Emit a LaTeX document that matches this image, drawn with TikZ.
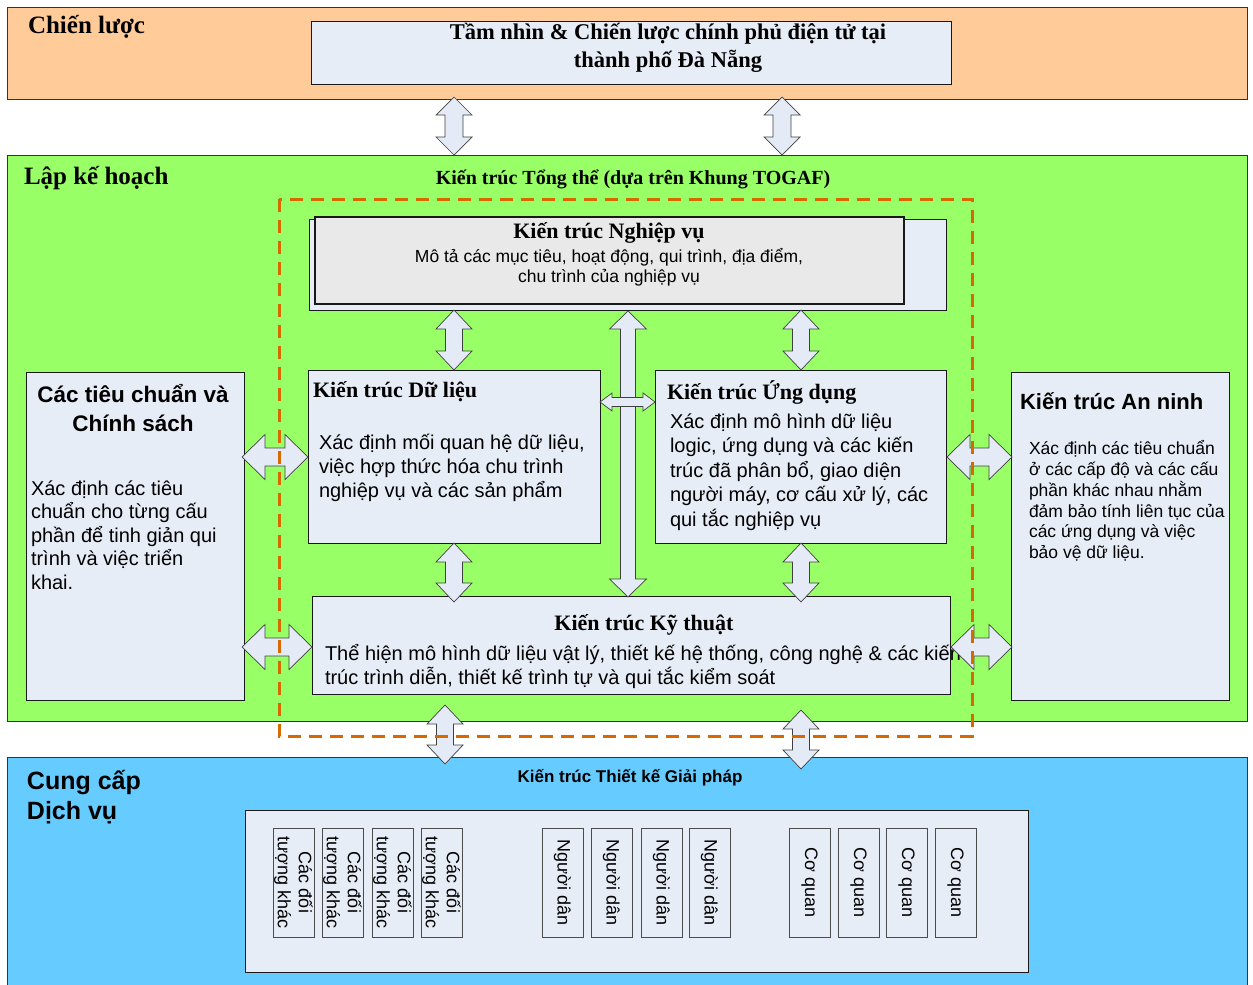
\documentclass[tikz,border=0pt]{standalone}
\usepackage{fontspec}
\setmainfont{Liberation Serif}
\setsansfont{Liberation Sans}
\definecolor{bandorange}{RGB}{255,204,153}
\definecolor{bandgreen}{RGB}{153,255,102}
\definecolor{bandblue}{RGB}{102,204,255}
\definecolor{boxfill}{RGB}{231,237,247}
\definecolor{arrfill}{RGB}{228,235,246}
\definecolor{grayfill}{RGB}{233,233,233}
\definecolor{dashorange}{RGB}{214,106,0}
\newcommand{\myfs}[2]{\fontsize{#1}{#2}\selectfont}
% vertical double block arrow: x, ytop, ybottom, half head, half shaft, head length
\newcommand{\myvarrow}[6]{%
  \draw[blockarrow] (#1,#2) -- (#1+#4,#2+#6) -- (#1+#5,#2+#6) -- (#1+#5,#3-#6) -- (#1+#4,#3-#6) -- (#1,#3)
    -- (#1-#4,#3-#6) -- (#1-#5,#3-#6) -- (#1-#5,#2+#6) -- (#1-#4,#2+#6) -- cycle;}
% horizontal double block arrow: y, xleft, xright, half head, half shaft, head length
\newcommand{\myharrow}[6]{%
  \draw[blockarrow] (#2,#1) -- (#2+#6,#1-#4) -- (#2+#6,#1-#5) -- (#3-#6,#1-#5) -- (#3-#6,#1-#4) -- (#3,#1)
    -- (#3-#6,#1+#4) -- (#3-#6,#1+#5) -- (#2+#6,#1+#5) -- (#2+#6,#1+#4) -- cycle;}
\tikzset{
  band/.style={draw=black!80, line width=0.9pt, inner sep=0, outer sep=0, anchor=north west},
  panel/.style={draw=black!90, fill=boxfill, line width=1pt, inner sep=0, outer sep=0, anchor=north west},
  tinybox/.style={draw=black!70, fill=boxfill, line width=0.8pt, inner sep=0, outer sep=0, anchor=north west,
    minimum width=41pt, minimum height=109pt},
  blockarrow/.style={draw=black!75, fill=arrfill, line width=0.7pt, line join=miter},
  txt/.style={inner sep=0, outer sep=0},
  serifhead/.style={txt, font=\rmfamily\bfseries\myfs{22}{26}},
  bodytxt/.style={txt, align=left, font=\sffamily\myfs{20}{24.3}},
  tinytxt/.style={txt, rotate=-90, align=center, font=\sffamily\myfs{18}{21}},
  frame/.style={draw=dashorange, line width=3pt, dash pattern=on 13pt off 8pt}
}
\begin{document}
\begin{tikzpicture}[x=1pt,y=-1pt]
\useasboundingbox (0,0) rectangle (1253,985);
\fill[white] (0,0) rectangle (1253,985);
% bands
\node[band, fill=bandorange, minimum width=1240pt, minimum height=92pt] (strat) at (7,7) {};
\node[band, fill=bandgreen, minimum width=1240pt, minimum height=566pt] (plan) at (7,155) {};
\node[band, fill=bandblue, minimum width=1240pt, minimum height=240pt] (deliver) at (7,757) {};
% band titles
\node[txt, anchor=west, font=\rmfamily\bfseries\myfs{25}{30}] (tstrat) at (28,27) {Chiến lược};
\node[txt, anchor=west, font=\rmfamily\bfseries\myfs{25}{30}] (tplan) at (24,178) {Lập kế hoạch};
\node[txt, anchor=west, align=left, font=\sffamily\bfseries\myfs{25}{29.5}] (tdeliver) at (27,797) {Cung cấp\\Dịch vụ};
% vision box
\node[panel, minimum width=640pt, minimum height=63pt] (vision) at (311,21) {};
\node[txt, align=center, font=\rmfamily\bfseries\myfs{22.5}{28}] (tvision) at (668,48) {Tầm nhìn \& Chiến lược chính phủ điện tử tại\\thành phố Đà Nẵng};
% overall architecture label
\node[txt, font=\rmfamily\bfseries\myfs{20}{24}] (ttogaf) at (633,179) {Kiến trúc Tổng thể (dựa trên Khung TOGAF)};
% business architecture
\node[panel, minimum width=637pt, minimum height=91pt] (bizback) at (309,219) {};
\node[panel, fill=grayfill, line width=1.8pt, minimum width=589pt, minimum height=87pt] (biz) at (315,217) {};
\node[serifhead] (tbiz) at (609,233) {Kiến trúc Nghiệp vụ};
\node[txt, align=center, font=\sffamily\myfs{17.5}{20}] (dbiz) at (609,267) {Mô tả các mục tiêu, hoạt động, qui trình, địa điểm,\\chu trình của nghiệp vụ};
% data architecture
\node[panel, minimum width=292pt, minimum height=173pt] (data) at (308,370) {};
\node[serifhead, anchor=west] (tdata) at (313,392) {Kiến trúc Dữ liệu};
\node[bodytxt, anchor=west] (ddata) at (319,468) {Xác định mối quan hệ dữ liệu,\\việc hợp thức hóa chu trình\\nghiệp vụ và các sản phẩm};
% application architecture
\node[panel, minimum width=291pt, minimum height=173pt] (app) at (655,370) {};
\node[serifhead, anchor=west] (tapp) at (667,392) {Kiến trúc Ứng dụng};
\node[bodytxt, anchor=west, font=\sffamily\myfs{20}{24.5}] (dapp) at (670,472) {Xác định mô hình dữ liệu\\logic, ứng dụng và các kiến\\trúc đã phân bổ, giao diện\\người máy, cơ cấu xử lý, các\\qui tắc nghiệp vụ};
% standards
\node[panel, minimum width=218pt, minimum height=328pt] (std) at (26,372) {};
\node[txt, align=center, font=\sffamily\bfseries\myfs{22.5}{28.5}] (tstd) at (133,408) {Các tiêu chuẩn và\\Chính sách};
\node[bodytxt, anchor=west, font=\sffamily\myfs{20}{23.5}] (dstd) at (31,535) {Xác định các tiêu\\chuẩn cho từng cấu\\phần để tinh giản qui\\trình và việc triển\\khai.};
% security
\node[panel, minimum width=218pt, minimum height=328pt] (sec) at (1011,372) {};
\node[txt, anchor=west, font=\sffamily\bfseries\myfs{22}{26}] (tsec) at (1020,401) {Kiến trúc An ninh};
\node[bodytxt, anchor=west, font=\sffamily\myfs{17.5}{20.8}] (dsec) at (1029,501) {Xác định các tiêu chuẩn\\ở các cấp độ và các cấu\\phần khác nhau nhằm\\đảm bảo tính liên tục của\\các ứng dụng và việc\\bảo vệ dữ liệu.};
% technology
\node[panel, minimum width=638pt, minimum height=98pt] (tech) at (312,596) {};
\node[serifhead] (ttech) at (644,625) {Kiến trúc Kỹ thuật};
\node[bodytxt, anchor=west, font=\sffamily\myfs{20}{24}] (dtech) at (325,666) {Thể hiện mô hình dữ liệu vật lý, thiết kế hệ thống, công nghệ \& các kiến\\trúc trình diễn, thiết kế trình tự và qui tắc kiểm soát};
% solution design
\node[txt, font=\sffamily\bfseries\myfs{17}{20}] (tsol) at (630,778) {Kiến trúc Thiết kế Giải pháp};
\node[panel, minimum width=783pt, minimum height=162pt] (sol) at (245,810) {};
\node[tinybox] (o1) at (273,828) {};
\node[tinybox] (o2) at (322,828) {};
\node[tinybox] (o3) at (372,828) {};
\node[tinybox] (o4) at (421,828) {};
\node[tinybox] (p1) at (542,828) {};
\node[tinybox] (p2) at (591,828) {};
\node[tinybox] (p3) at (641,828) {};
\node[tinybox] (p4) at (689,828) {};
\node[tinybox] (c1) at (789,828) {};
\node[tinybox] (c2) at (838,828) {};
\node[tinybox] (c3) at (886,828) {};
\node[tinybox] (c4) at (935,828) {};
\foreach \n in {o1,o2,o3,o4} \node[tinytxt] at (\n.center) {Các đối\\tượng khác};
\foreach \n in {p1,p2,p3,p4} \node[tinytxt] at (\n.center) {Người dân};
\foreach \n in {c1,c2,c3,c4} \node[tinytxt] at (\n.center) {Cơ quan};
% block arrows
\myvarrow{454}{97}{155}{18}{9}{18}
\myvarrow{782}{97}{155}{18}{9}{18}
\myvarrow{454}{310}{370}{18}{8.5}{19}
\myvarrow{801}{310}{370}{18}{8.5}{19}
\myvarrow{628}{311}{597}{18.5}{7.5}{18}
\myvarrow{454}{543}{602}{18}{8.5}{19}
\myvarrow{801}{543}{602}{18}{8.5}{19}
\myvarrow{445}{705}{764}{18}{8.5}{19}
\myvarrow{801}{710}{769}{18}{8.5}{19}
\myharrow{457}{242}{308}{22.5}{9}{23}
\myharrow{647}{242}{312}{22.5}{9}{23}
\myharrow{402}{600}{655}{9}{4.5}{12}
\myharrow{457}{947}{1012}{22.5}{9}{23}
\myharrow{647}{951}{1012}{22.5}{9}{23}
% dashed frame of the overall architecture
\draw[frame] (279,199) rectangle (972,736);
\end{tikzpicture}
\end{document}
